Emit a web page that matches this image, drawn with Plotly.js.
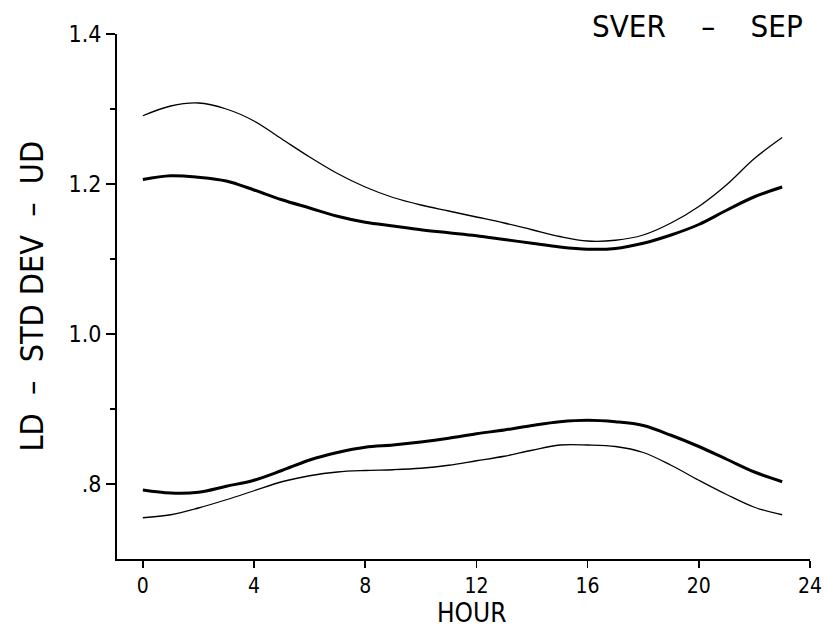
<!DOCTYPE html>
<html>
<head>
<meta charset="utf-8">
<script src="https://cdn.plot.ly/plotly-3.0.1.min.js"></script>
<style>html,body{margin:0;padding:0;background:#fff;}#chart{width:828px;height:630px;}</style>
</head>
<body>
<div id="chart"></div>
<script>
const hours = [0,1,2,3,4,5,6,7,8,9,10,11,12,13,14,15,16,17,18,19,20,21,22,23];
const upperThin  = [1.291,1.304,1.308,1.300,1.284,1.260,1.236,1.214,1.196,1.182,1.172,1.164,1.156,1.148,1.139,1.130,1.124,1.125,1.132,1.148,1.170,1.199,1.234,1.262];
const upperThick = [1.206,1.211,1.209,1.204,1.192,1.179,1.168,1.157,1.149,1.144,1.139,1.135,1.131,1.126,1.121,1.116,1.113,1.114,1.121,1.132,1.146,1.165,1.183,1.196];
const lowerThick = [0.792,0.788,0.789,0.797,0.805,0.818,0.832,0.842,0.849,0.852,0.856,0.861,0.867,0.872,0.878,0.883,0.885,0.883,0.878,0.865,0.850,0.833,0.816,0.803];
const lowerThin  = [0.755,0.759,0.768,0.779,0.791,0.803,0.811,0.816,0.818,0.819,0.821,0.825,0.831,0.837,0.845,0.852,0.852,0.850,0.842,0.825,0.805,0.786,0.769,0.759];
const yTickVals = [0.8,1.0,1.2,1.4];
const yTickText = ['.8','1.0','1.2','1.4'];
const yMinorVals = [0.9,1.1,1.3];
const xTickVals = [0,4,8,12,16,20,24];
const xTickText = ['0','4','8','12','16','20','24'];
const chartTitle = 'SVER\u00A0\u00A0\u00A0\u00A0\u2013\u00A0\u00A0\u00A0\u00A0SEP';
const yTitle = 'LD\u00A0\u00A0\u2013\u00A0\u00A0STD DEV\u00A0\u00A0\u2013\u00A0\u00A0UD';
const xTitle = 'HOUR';

const FONT = '"DejaVu Sans Condensed", "Liberation Sans Narrow", "Arial Narrow", sans-serif';

function tr(y, w){
  return {x: hours, y: y, type:'scatter', mode:'lines',
    line:{color:'#000', width:w, shape:'spline', smoothing:1.0},
    hoverinfo:'skip', showlegend:false};
}

const data = [tr(upperThin,1.3), tr(upperThick,3), tr(lowerThick,3), tr(lowerThin,1.3)];

const layout = {
  width:828, height:630,
  margin:{l:117, r:18, t:34, b:71},
  paper_bgcolor:'#fff', plot_bgcolor:'#fff',
  showlegend:false,
  font:{family:FONT, color:'#000'},
  xaxis:{
    range:[-0.93,24], showgrid:false, zeroline:false,
    showline:true, linecolor:'#000', linewidth:2,
    ticks:'outside', ticklen:7, tickwidth:1.5, tickcolor:'#000',
    tickvals:xTickVals, ticktext:xTickText,
    tickfont:{family:FONT, size:21, color:'#000'}
  },
  yaxis:{
    range:[0.70,1.40], showgrid:false, zeroline:false,
    showline:true, linecolor:'#000', linewidth:2,
    ticks:'outside', ticklen:9, tickwidth:1.5, tickcolor:'#000',
    tickvals:yTickVals, ticktext:yTickText,
    tickfont:{family:FONT, size:23, color:'#000'},
    minor:{tickvals:yMinorVals, ticks:'outside', ticklen:5, tickwidth:1.2, tickcolor:'#000', showgrid:false}
  },
  annotations:[
    {text:chartTitle, xref:'paper', yref:'paper', x:0.993, y:1, xanchor:'right', yanchor:'middle', yshift:8,
     showarrow:false, font:{family:FONT, size:31, color:'#000'}},
    {text:yTitle, xref:'paper', yref:'paper', x:0, y:0.5, xanchor:'center', yanchor:'middle', xshift:-86,
     textangle:-90, showarrow:false, font:{family:FONT, size:32, color:'#000'}},
    {text:xTitle, xref:'paper', yref:'paper', x:0.512, y:0, xanchor:'center', yanchor:'bottom', yshift:-71,
     showarrow:false, font:{family:FONT, size:26, color:'#000'}}
  ]
};

Plotly.newPlot('chart', data, layout, {staticPlot:true, displayModeBar:false});
</script>
</body>
</html>
